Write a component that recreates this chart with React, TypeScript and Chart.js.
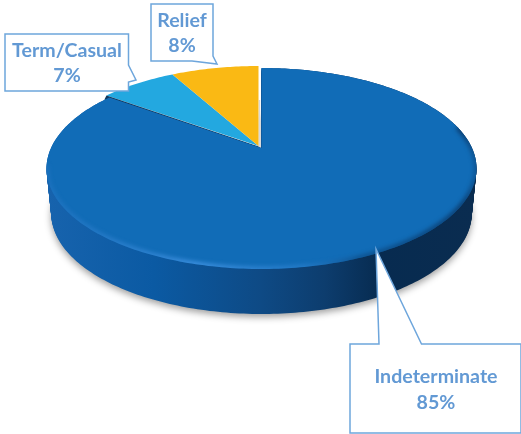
import React, { useEffect, useRef } from "react";
import { Chart, registerables } from "chart.js";

Chart.register(...registerables);

const categories = ["Indeterminate", "Term/Casual", "Relief"];
const shares = [85, 7, 8];
const sliceColors = ["#116cb7", "#23a8e0", "#fab914"];

// perspective of the pie's top face
const APEX = { x: 258.5, y: 146 };
const PERSP = -0.204;
const SCALE_X = 210.5;
const SCALE_Y = 96.3;
const DEPTH = 45;
const BLUE_SHIFT = { x: 3, y: 2 };

type P = { x: number; y: number };
const project = (a: number, r = 1, shift: P = { x: 0, y: 0 }, sx = 1): P => {
  const ux = Math.cos(a) * r;
  const uy = Math.sin(a) * r;
  const d = 1 + PERSP * uy;
  return {
    x: APEX.x + shift.x + (SCALE_X * sx * ux) / d,
    y: APEX.y + shift.y + (SCALE_Y * uy) / d,
  };
};

const rimPoints = (start: number, end: number, shift: P, sx = 1): P[] => {
  const pts: P[] = [];
  const n = Math.max(8, Math.ceil(Math.abs(end - start) * 60));
  for (let i = 0; i <= n; i++) pts.push(project(start + ((end - start) * i) / n, 1, shift, sx));
  return pts;
};

const tracePoly = (ctx: CanvasRenderingContext2D, pts: P[]) => {
  ctx.beginPath();
  pts.forEach((p, i) => (i ? ctx.lineTo(p.x, p.y) : ctx.moveTo(p.x, p.y)));
  ctx.closePath();
};

const callouts = [
  {
    index: 0,
    shape: [[350, 344], [379, 344], [376, 249], [421.5, 344], [521, 344], [521, 433], [350, 433]],
    cx: 436, y1: 377, y2: 403,
  },
  {
    index: 1,
    shape: [[5, 34], [128.5, 34], [128.5, 65], [136, 80], [128.5, 82], [128.5, 91], [5, 91]],
    cx: 67, y1: 51, y2: 76,
  },
  {
    index: 2,
    shape: [[151, 4], [213, 4], [213, 56], [217, 64], [192, 61], [151, 61]],
    cx: 182, y1: 21, y2: 46,
  },
];

const pie3d = {
  id: "pie3d",
  beforeDatasetDraw(chart: any) {
    const ctx: CanvasRenderingContext2D = chart.ctx;
    const arcs = chart.getDatasetMeta(0).data;
    const main = arcs[0];
    const s = main.startAngle;
    const e = main.endAngle;
    const apexBlue = { x: APEX.x + BLUE_SHIFT.x, y: APEX.y + BLUE_SHIFT.y };
    const top = rimPoints(s, e, BLUE_SHIFT);

    // wall + shadow: the face's outline swept downward
    ctx.save();
    const wall = ctx.createLinearGradient(47, 0, 474, 0);
    wall.addColorStop(0, "#1763ad");
    wall.addColorStop(0.25, "#0b5aa3");
    wall.addColorStop(0.5, "#0e4a85");
    wall.addColorStop(0.65, "#0d3d6e");
    wall.addColorStop(0.78, "#072b50");
    wall.addColorStop(1, "#0a2c50");
    ctx.fillStyle = wall;
    const bottomShift = { x: BLUE_SHIFT.x, y: BLUE_SHIFT.y + DEPTH };
    ctx.shadowColor = "rgba(0,0,0,0.38)";
    ctx.shadowBlur = 7;
    ctx.shadowOffsetY = 3;
    tracePoly(ctx, [{ x: apexBlue.x, y: apexBlue.y + DEPTH }, ...rimPoints(s, e, bottomShift, 0.978)]);
    ctx.fill();
    ctx.shadowColor = "transparent";
    for (let d = 0; d < DEPTH; d += 1) {
      const t = d / DEPTH;
      tracePoly(ctx, [
        { x: apexBlue.x, y: apexBlue.y + d },
        ...rimPoints(s, e, { x: BLUE_SHIFT.x, y: BLUE_SHIFT.y + d }, 1 - 0.022 * t),
      ]);
      ctx.fill();
    }
    ctx.restore();

    // gap shading next to the first cut
    ctx.save();
    ctx.strokeStyle = "#d9d9d9";
    ctx.lineWidth = 1.5;
    ctx.beginPath();
    ctx.moveTo(APEX.x + 1, 100);
    ctx.lineTo(APEX.x + 1, APEX.y + 1);
    ctx.stroke();
    ctx.restore();

    // small slices
    [1, 2].forEach((i) => {
      const a = arcs[i];
      ctx.fillStyle = sliceColors[i];
      tracePoly(ctx, [APEX, ...rimPoints(a.startAngle, a.endAngle, { x: 0, y: 0 })]);
      ctx.fill();
    });

    // dark cut under the neighbouring slice
    const cutEnd = project(e, 1, { x: 0, y: 0 });
    ctx.fillStyle = "#10375c";
    tracePoly(ctx, [
      { x: APEX.x, y: APEX.y + 0.5 },
      { x: cutEnd.x, y: cutEnd.y },
      { x: cutEnd.x - 2, y: cutEnd.y + 4 },
      { x: apexBlue.x, y: apexBlue.y + 2 },
    ]);
    ctx.fill();

    // main face
    ctx.save();
    tracePoly(ctx, [apexBlue, ...top]);
    ctx.fillStyle = sliceColors[0];
    ctx.fill();
    ctx.clip();
    ctx.filter = "blur(2px)";
    const rim = ctx.createLinearGradient(47, 0, 476, 0);
    rim.addColorStop(0, "rgba(50,125,205,0.35)");
    rim.addColorStop(0.35, "rgba(75,155,235,0.8)");
    rim.addColorStop(0.6, "rgba(60,140,220,0.45)");
    rim.addColorStop(0.73, "rgba(10,60,110,0.55)");
    rim.addColorStop(0.97, "rgba(10,50,95,0.8)");
    rim.addColorStop(1, "rgba(10,50,95,0.4)");
    ctx.strokeStyle = rim;
    ctx.lineWidth = 5;
    ctx.beginPath();
    rimPoints(e - 0.8, e - 4.0, BLUE_SHIFT).forEach((p, i) => (i ? ctx.lineTo(p.x, p.y) : ctx.moveTo(p.x, p.y)));
    ctx.stroke();
    ctx.restore();
    return false;
  },
  afterDraw(chart: any) {
    const ctx: CanvasRenderingContext2D = chart.ctx;
    ctx.save();
    callouts.forEach((c) => {
      tracePoly(ctx, c.shape.map(([x, y]) => ({ x, y })));
      ctx.fillStyle = "#ffffff";
      ctx.fill();
      ctx.strokeStyle = "#6ea6dc";
      ctx.lineWidth = 1.5;
      ctx.stroke();
      ctx.fillStyle = "#6299d4";
      ctx.font = "bold 19.6px Lato";
      ctx.textAlign = "center";
      ctx.textBaseline = "middle";
      ctx.fillText(categories[c.index], c.cx, c.y1);
      ctx.fillText(`${shares[c.index]}%`, c.cx, c.y2);
    });
    ctx.restore();
  },
};

export default function App() {
  const ref = useRef<HTMLCanvasElement>(null);
  useEffect(() => {
    if (!ref.current) return;
    const chart = new Chart(ref.current, {
      type: "pie",
      data: {
        labels: categories,
        datasets: [{ data: shares, backgroundColor: sliceColors, borderWidth: 0 }],
      },
      options: {
        animation: false,
        responsive: false,
        plugins: { legend: { display: false }, tooltip: { enabled: false } },
      },
      plugins: [pie3d],
    });
    return () => chart.destroy();
  }, []);
  return (
    <canvas
      ref={ref}
      width={521}
      height={434}
      style={{ position: "absolute", left: 0, top: 0, width: 521, height: 434, display: "block" }}
    />
  );
}
